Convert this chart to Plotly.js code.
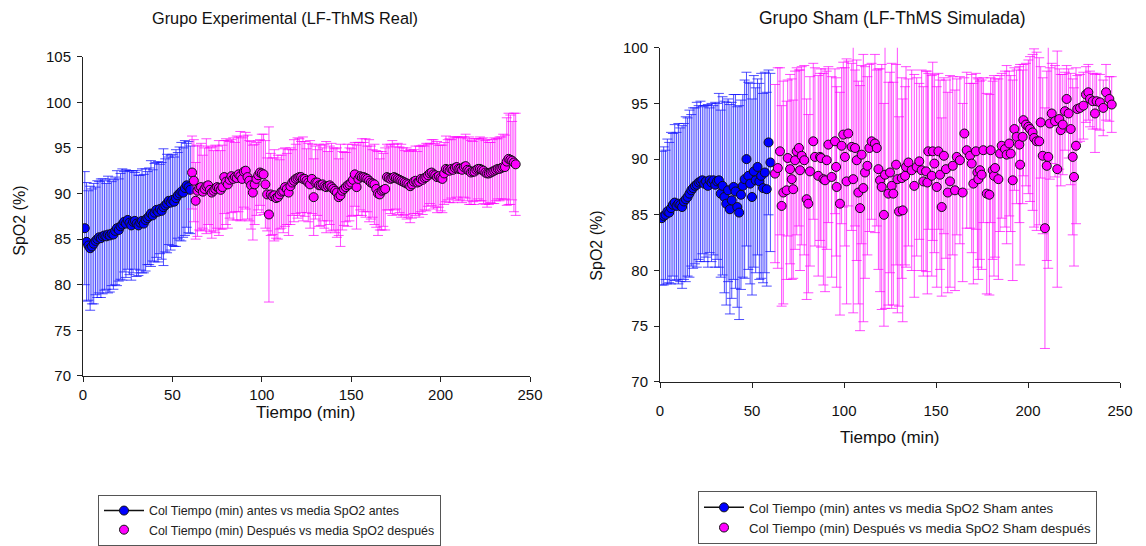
<!DOCTYPE html>
<html>
<head>
<meta charset="utf-8">
<script src="https://cdn.plot.ly/plotly-3.0.1.min.js"></script>
<style>
html,body{margin:0;padding:0;background:#fff;}
#chart{width:1146px;height:546px;}
</style>
</head>
<body>
<div id="chart"></div>
<script>
// ---------- Grupo Experimental (LF-ThMS Real) ----------
const expAntesT = [1,2,3,4,5,6,7,8,9,10,11,12,13,14,15,16,17,18,19,20,21,22,23,24,25,26,27,28,29,30,
  31,32,33,34,35,36,37,38,39,40,41,42,43,44,45,46,47,48,49,50,51,52,53,54,55,56,57,58,59,60];
const expAntesMean = [
  86.2,84.7,84.3,84.0,84.2,84.5,84.8,85.0,85.2,85.1,
  85.3,85.4,85.3,85.5,85.4,85.6,85.5,85.9,86.2,86.0,
  86.4,86.6,86.9,86.7,87.1,86.8,86.5,86.9,87.0,86.7,
  86.5,86.8,87.0,86.7,87.1,87.3,87.5,87.8,87.6,87.9,
  88.2,88.0,88.3,88.1,88.5,88.7,88.9,89.2,89.0,89.3,
  89.1,89.5,89.8,90.0,90.2,90.1,90.6,90.9,90.7,90.4];
const expAntesSD = [
  6.2,6.5,6.0,6.8,6.3,6.6,5.9,6.4,6.1,6.5,
  6.3,6.0,5.8,6.4,6.2,5.7,6.0,5.9,6.3,5.6,
  5.8,6.1,5.5,5.9,5.4,5.7,6.0,5.6,5.3,5.8,
  5.5,5.2,5.7,5.4,5.6,5.1,5.3,5.8,5.0,5.4,
  5.2,5.5,4.9,5.3,6.4,5.1,5.4,4.8,5.2,5.0,
  4.9,5.3,4.7,5.1,5.4,4.9,5.2,4.6,5.0,4.8];

const expDespT = [
  61,62,63,64,65,66,67,68,69,70, 71,72,73,74,75,76,77,78,79,80,
  81,82,83,84,85,86,87,88,89,90, 91,92,93,94,95,96,97,98,99,100,
  101,102,103,104,105,106,107,108,109,110, 111,112,113,114,115,116,117,118,119,120,
  121,122,123,124,125,126,127,128,129,130, 131,132,133,134,135,136,137,138,139,140,
  141,142,143,144,145,146,147,148,149,150, 151,152,153,154,155,156,157,158,159,160,
  161,162,163,164,165,166,167,168,169,170, 171,172,173,174,175,176,177,178,179,180,
  181,182,183,184,185,186,187,188,189,190, 191,192,193,194,195,196,197,198,199,200,
  201,202,203,204,205,206,207,208,209,210, 211,212,213,214,215,216,217,218,219,220,
  221,222,223,224,225,226,227,228,229,230, 231,232,233,234,235,236,237,238,239,240,
  241,242];
const expDespMean = [
  92.3,91.4,89.2,90.3,90.6,90.7,90.2,90.5,90.8,90.9,
  90.4,90.1,90.3,90.5,90.7,90.6,90.4,90.7,91.8,91.3,
  91.0,91.5,91.9,91.6,91.8,91.7,92.1,91.9,91.6,92.4,
  92.5,91.8,91.4,90.9,90.1,91.0,91.6,92.0,92.3,92.2,
  92.1,91.0,89.9,87.7,89.9,89.7,89.8,89.5,89.6,89.9,
  90.2,90.3,90.7,90.5,90.1,90.8,91.2,91.4,91.6,91.7,
  91.8,91.8,91.6,91.6,91.4,91.2,91.0,91.6,89.6,91.2,
  91.2,90.9,90.9,91.0,90.8,90.7,90.8,90.9,90.7,90.5,
  90.3,90.1,89.6,89.8,90.3,90.5,90.7,90.9,91.0,91.2,
  91.5,92.1,90.7,91.6,91.9,91.8,91.8,91.7,91.6,91.4,
  91.2,91.1,91.0,90.5,90.0,89.9,90.3,90.4,90.5,91.8,
  91.7,91.6,91.7,91.8,91.7,91.6,91.5,91.4,91.3,91.2,
  91.1,91.0,90.8,91.0,91.3,91.4,91.2,91.3,91.6,91.5,
  91.7,91.8,92.0,92.2,92.3,92.1,92.0,91.8,91.9,91.7,
  91.6,92.2,92.7,92.6,92.5,92.7,92.6,92.8,92.9,92.7,
  92.7,92.6,92.9,93.0,92.6,92.5,92.3,92.4,92.4,92.6,
  92.7,92.7,92.6,92.5,92.3,92.2,92.2,92.3,92.4,92.5,
  92.6,92.7,92.7,92.8,92.9,92.9,93.5,93.8,93.7,93.6,
  93.4,93.2];
const expDespSD = [
  4.0,4.5,4.2,5.0,4.6,4.8,4.0,4.5,5.2,4.3,
  4.6,5.0,4.4,4.8,4.5,5.2,4.3,4.6,4.0,4.7,
  4.8,4.2,4.0,4.5,3.8,4.6,4.1,4.9,4.5,3.9,
  4.2,4.6,4.4,4.8,5.2,4.4,4.0,3.8,3.6,4.3,
  4.4,4.8,4.0,9.6,4.5,4.2,5.0,4.4,4.6,3.8,
  4.0,4.6,4.3,3.9,4.7,4.2,3.6,4.5,3.8,4.4,
  4.2,3.9,4.6,4.1,3.5,4.3,4.8,3.8,4.2,4.0,
  3.6,4.5,4.4,4.0,4.6,5.0,3.8,4.3,4.8,4.5,
  4.6,4.9,4.2,5.6,4.3,4.0,3.8,4.5,4.0,3.7,
  3.9,3.5,4.6,4.0,3.7,4.2,3.8,4.3,3.6,4.5,
  4.0,3.7,4.4,4.2,4.6,3.9,4.3,4.0,4.5,3.6,
  3.5,3.8,4.1,3.6,3.4,3.9,3.6,4.0,3.7,3.5,
  3.9,3.6,4.0,3.7,3.5,3.8,3.4,3.9,3.6,3.8,
  3.5,3.7,3.4,3.3,3.6,3.8,3.5,3.9,3.4,3.6,
  3.7,3.4,3.6,3.3,3.5,3.2,3.6,3.4,3.3,3.5,
  3.4,3.6,3.3,3.5,3.4,3.7,3.5,3.3,3.6,3.4,
  3.3,3.5,3.4,3.6,3.5,3.7,3.4,3.3,3.5,3.6,
  3.4,3.3,3.5,3.4,3.6,3.5,4.8,5.0,4.9,4.3,
  5.4,5.6];

// ---------- Grupo Sham (LF-ThMS Simulada) ----------
const shamAntesT = [1,2,3,4,5,6,7,8,9,10,11,12,13,14,15,16,17,18,19,20,21,22,23,24,25,26,27,28,29,30,
  31,32,33,34,35,36,37,38,39,40,41,42,43,44,45,46,47,48,49,50,51,52,53,54,55,56,57,58,59,60];
const shamAntesMean = [
  84.7,84.9,85.0,85.3,85.2,85.6,85.9,86.1,85.8,86.0,
  85.9,85.7,86.2,86.4,86.6,86.9,87.2,87.4,87.6,87.7,
  87.9,88.0,88.1,87.8,88.0,87.6,88.1,87.9,88.1,87.7,
  88.0,88.1,86.9,87.6,86.6,86.0,87.2,85.5,86.3,87.5,
  87.1,85.7,85.2,86.8,87.6,88.2,90.0,88.5,87.8,86.6,
  88.9,88.1,89.3,88.0,88.5,87.4,88.8,87.3,91.5,89.7];
const shamAntesSD = [
  6.0,6.2,5.8,6.5,6.3,6.8,6.4,7.0,6.6,7.2,
  6.9,7.3,7.0,7.4,7.1,7.5,6.8,7.2,7.0,7.4,
  6.9,7.2,6.6,7.0,6.8,7.3,6.5,7.1,6.7,7.4,
  7.0,7.8,7.5,8.0,8.6,9.1,8.2,9.4,8.8,8.3,
  8.7,9.0,9.6,8.5,8.2,8.9,7.8,8.4,9.0,8.8,
  8.6,8.3,7.9,8.8,9.2,8.5,9.0,8.7,6.5,8.0];

const shamDespT = [
  62.5,64,65.2,66.1,67,68.8,69.4,70.7,71.6,72.4,
  73.4,74.3,75.5,76.1,77,78.4,79.7,80.6,81.5,83.3,
  84.2,86,87,87.5,88.8,89.7,90.6,91.5,93.3,95.1,
  95.7,96,97.8,98.7,99.6,100.5,101.4,102.3,104.2,105,
  106,106.9,107.8,108.7,109.6,110.5,111.4,112.7,113.8,115,
  116.8,117.8,118.7,119.6,120.5,121.7,122.3,124.1,125,125.9,
  126.8,128.3,129,129.9,131.4,131.9,133.2,133.7,135,136.8,
  138.2,139.5,140.9,142.2,143.1,144.6,145.3,145.8,147.7,148.2,
  149.1,150.4,151.3,152.2,153.1,154.3,155.4,156.4,157.6,159.1,
  160.3,161.3,163,164.5,165.4,166.7,168.5,169.4,170.3,171.7,
  172.5,173,173.9,174.8,175.7,177.6,179,179.7,180.8,181.5,
  182.1,183.9,184.8,185.7,187.5,188.4,189.8,190.6,191.7,192.6,
  193.8,195.3,195.7,197.1,197.5,198.9,200.2,201.1,202.5,203.3,
  204.7,206.1,206.9,208,209.2,210.2,211,211.9,212.9,214.7,
  215.9,217,217.8,218.9,220.1,221,222.1,223.2,224.3,225,
  226.1,226.8,228.3,230.1,231.5,232.8,233.7,235.2,236.4,237.3,
  239.1,240.9,242.4,244.2,245.5];
const shamDespMean = [
  88.7,89.2,90.7,85.8,87.0,87.2,90.1,89.1,88.2,87.3,
  89.9,90.7,91.0,89.0,90.3,89.9,86.4,86.0,88.9,91.6,
  90.2,88.5,90.2,90.1,88.2,88.1,89.9,91.3,88.4,91.6,
  89.3,87.5,86.0,91.2,92.2,90.2,88.0,92.3,91.1,88.2,
  91.0,89.9,87.0,85.6,90.4,87.4,88.8,89.4,91.0,91.6,
  91.4,91.0,89.1,88.1,87.5,85.0,88.6,86.9,88.8,87.6,
  86.9,89.5,88.2,85.3,88.3,85.4,88.5,89.3,89.7,89.0,
  87.6,89.3,89.8,89.0,88.0,88.9,87.9,90.7,88.5,90.7,
  89.6,87.5,90.7,88.6,85.7,90.3,89.1,87.0,88.0,89.4,
  87.2,90.2,89.9,87.0,92.3,90.8,90.3,89.6,87.8,90.7,
  88.8,88.2,89.0,88.6,90.8,86.9,86.8,90.8,89.0,88.5,
  89.2,88.2,90.5,91.2,90.9,90.4,91.4,90.5,88.1,92.7,
  92.0,91.3,89.5,92.0,93.5,93.1,92.9,92.7,92.4,91.9,
  91.6,91.6,93.3,90.3,83.8,89.4,90.2,93.2,94.1,93.4,
  89.1,93.6,92.6,93.1,94.3,95.4,94.1,92.7,90.2,88.4,
  91.2,94.5,94.6,94.8,95.8,96.0,95.4,95.2,94.1,95.2,
  95.1,94.6,96.0,95.4,94.9];
const shamDespSD = [
  8,9,7.5,9,10,8,7,8.5,9,8,
  8,7.5,7,9,8,8.5,9,8,8.5,7,
  8,9,7.5,8,9.5,10,8,7,9,6.5,
  8,9,10,7,6.5,8,11,6.5,7.5,12,
  7,9,10,11,8,12,9.5,8,7.5,7,
  8,7,9,10,11,10,12,10,9,11,
  10,9,12,8.5,9,10,8,9,7.5,9,
  10,8,7,9,8.5,9,10,7,9,8,
  8,9,7,8.5,8,7,8,9,9.5,8,
  9,7,7.5,8,5,7,6.5,8,9,7,
  8.5,9,8,8.5,6.5,9,9,6.5,8,9,
  8,9,7,6.5,7,8,6.5,7,9,5.5,
  6,7,9,6,5,5.5,6,6.5,7,8,
  8,7.5,5,7,10.8,8.5,10,5,4.5,5,
  10.6,4.5,5,4.5,3.5,3,4,5,7,8,
  7,3,3,3,2.5,2.5,2.5,2.5,3.5,2.5,
  2.5,2.5,2.5,2,2.5];

const titles = ['Grupo Experimental (LF-ThMS Real)', 'Grupo Sham (LF-ThMS Simulada)'];
const xTitle = 'Tiempo (min)', yTitle = 'SpO2 (%)';
const legendLabels = [
  'Col Tiempo (min) antes vs media SpO2 antes',
  'Col Tiempo (min) Después vs media SpO2 después',
  'Col Tiempo (min) antes vs media SpO2 Sham antes',
  'Col Tiempo (min) Después vs media SpO2 Sham después'
];

const BLUE = '#0000ff', PINK = '#ff00ff';
const blueBar = 'rgba(20,20,255,0.75)', pinkBar = 'rgba(255,0,255,0.7)';

function pts(x, y, sd, fill, barCol, xa, ya) {
  return {
    type: 'scatter', mode: 'markers', x: x, y: y, xaxis: xa, yaxis: ya,
    showlegend: false, hoverinfo: 'skip',
    marker: {size: 9, color: fill, line: {color: '#111', width: 1}},
    error_y: {type: 'data', array: sd, visible: true, color: barCol, thickness: 1, width: 5}
  };
}
function leg(name, fill, withLine, legendId) {
  return {
    type: 'scatter', mode: withLine ? 'lines+markers' : 'markers', x: [null], y: [null],
    name: name, legend: legendId, showlegend: true, hoverinfo: 'skip',
    marker: {size: 9, color: fill, line: {color: '#111', width: 1}},
    line: {color: '#111', width: 1.5}
  };
}

const data = [
  pts(expAntesT, expAntesMean, expAntesSD, BLUE, blueBar, 'x', 'y'),
  pts(expDespT, expDespMean, expDespSD, PINK, pinkBar, 'x', 'y'),
  pts(shamAntesT, shamAntesMean, shamAntesSD, BLUE, blueBar, 'x2', 'y2'),
  pts(shamDespT, shamDespMean, shamDespSD, PINK, pinkBar, 'x2', 'y2'),
  leg(legendLabels[0], BLUE, true, 'legend'),
  leg(legendLabels[1], PINK, false, 'legend'),
  leg(legendLabels[2], BLUE, true, 'legend2'),
  leg(legendLabels[3], PINK, false, 'legend2')
];

const W = 1146, H = 546;
const px = v => v / W, py = v => (H - v) / H;
const FONT = 'Liberation Sans, Arial, sans-serif';
const axisCommon = {
  showgrid: false, zeroline: false, showline: true, linecolor: '#222', linewidth: 1,
  ticks: 'outside', ticklen: 5, tickcolor: '#222', tickwidth: 1,
  tickfont: {family: FONT, size: 15, color: '#111'}, fixedrange: true
};

const legendCommon = {
  xanchor: 'left', yanchor: 'top', bgcolor: '#fff', bordercolor: '#555', borderwidth: 1,
  tracegroupgap: 0, itemwidth: 40
};

function ann(text, x, y, size, angle) {
  return {text: text, xref: 'paper', yref: 'paper', x: px(x), y: py(y), xanchor: 'center', yanchor: 'middle',
    showarrow: false, textangle: angle || 0, font: {family: FONT, size: size, color: '#111'}};
}

const layout = {
  width: W, height: H, margin: {l: 0, r: 0, t: 0, b: 0},
  paper_bgcolor: '#fff', plot_bgcolor: 'rgba(0,0,0,0)',
  font: {family: FONT, color: '#111'},
  xaxis: Object.assign({}, axisCommon, {domain: [px(83), px(530)], range: [0, 250], tickvals: [0,50,100,150,200,250], anchor: 'y', ticklabelstandoff: 0}),
  yaxis: Object.assign({}, axisCommon, {domain: [py(378), py(57)], range: [70, 105], tickvals: [70,75,80,85,90,95,100,105], anchor: 'x', ticklabelstandoff: 3}),
  xaxis2: Object.assign({}, axisCommon, {domain: [px(660), px(1120)], range: [0, 250], tickvals: [0,50,100,150,200,250], anchor: 'y2', ticklabelstandoff: 10}),
  yaxis2: Object.assign({}, axisCommon, {domain: [py(384), py(48)], range: [70, 100], tickvals: [70,75,80,85,90,95,100], anchor: 'x2', ticklabelstandoff: 3}),
  legend: Object.assign({}, legendCommon, {x: px(98), y: py(498), font: {family: FONT, size: 12.4, color: '#222'}}),
  legend2: Object.assign({}, legendCommon, {x: px(698), y: py(494), font: {family: FONT, size: 13.2, color: '#222'}}),
  annotations: [
    ann(titles[0], 285, 18, 16.3),
    ann(titles[1], 892, 18, 17.5),
    ann(xTitle, 306, 415, 17),
    ann(xTitle, 890, 440, 17),
    ann(yTitle, 20, 222, 16, -90),
    ann(yTitle, 597, 247, 16, -90)
  ]
};

Plotly.newPlot('chart', data, layout, {staticPlot: true, displayModeBar: false});
</script>
</body>
</html>
